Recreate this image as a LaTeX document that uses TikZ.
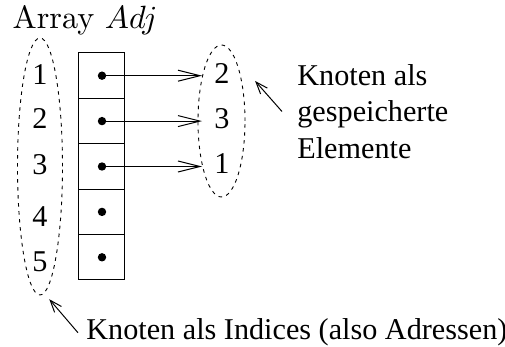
\documentclass[tikz,border=0pt]{standalone}
\usepackage{fontspec}
\newfontfamily\figfont{Liberation Serif}
\usetikzlibrary{arrows.meta,shapes.geometric}

\tikzset{
  txt/.style={font=\figfont\fontsize{15.1}{18.25}\selectfont},
  num/.style={txt,inner sep=1pt},
  cell/.style={draw,line width=0.5pt,minimum width=23pt,minimum height=22.7pt,inner sep=0pt,outer sep=0pt},
  dot/.style={fill=black,circle,minimum size=4.2pt,inner sep=0pt},
  ring/.style={draw,ellipse,inner sep=0pt,line width=0.45pt,dash pattern=on 1.8pt off 2.2pt},
  link/.style={-{Straight Barb[length=11pt,width=5.5pt]},line width=0.5pt},
  pointer/.style={-{Straight Barb[length=6pt,width=4.5pt]},line width=0.5pt},
}

\begin{document}
\begin{tikzpicture}[x=0.5pt,y=-0.5pt]
    \useasboundingbox (0,0) rectangle (505,347);
    \node[anchor=base west,inner sep=0pt,scale=1.61,font=\fontsize{10}{12}\selectfont] (T) at (12,29) {Array $Adj$};
    % indices
    \node[num] (I1) at (40,75) {1};
    \node[num] (I2) at (40,119) {2};
    \node[num] (I3) at (40,165) {3};
    \node[num] (I4) at (40,217) {4};
    \node[num] (I5) at (40,262) {5};
    \node[ring,minimum width=22.5pt,minimum height=128.5pt,outer sep=5pt] (L) at (40,166.5) {};
    % the array
    \node[cell] (C1) at (102,75.7) {};
    \node[cell] (C2) at (102,121.1) {};
    \node[cell] (C3) at (102,166.5) {};
    \node[cell] (C4) at (102,211.9) {};
    \node[cell] (C5) at (102,257.3) {};
    \node[dot] (D1) at (C1) {};
    \node[dot] (D2) at (C2) {};
    \node[dot] (D3) at (C3) {};
    \node[dot] (D4) at (C4) {};
    \node[dot] (D5) at (C5) {};
    % stored nodes
    \node[num] (E1) at (222,74) {2};
    \node[num] (E2) at (222,119) {3};
    \node[num] (E3) at (222,164) {1};
    \node[ring,minimum width=23.5pt,minimum height=76pt,outer sep=7pt] (R) at (221.5,121) {};
    \draw[link,shorten >=5pt] (D1.center) -- (D1.center -| E1.west);
    \draw[link,shorten >=5pt] (D2.center) -- (D2.center -| E2.west);
    \draw[link,shorten >=5pt] (D3.center) -- (D3.center -| E3.west);
    % notes
    \node[txt,anchor=west,align=left,inner xsep=7.5pt] (K1) at (282,111.5) {Knoten als\\gespeicherte\\Elemente};
    \node[txt,anchor=base west,inner xsep=4pt] (K2) at (78,340) {Knoten als Indices (also Adressen)};
    \draw[pointer] (K1.west) -- (R.50);
    \draw[pointer] (K2.west) -- (L.-86);
\end{tikzpicture}
\end{document}
